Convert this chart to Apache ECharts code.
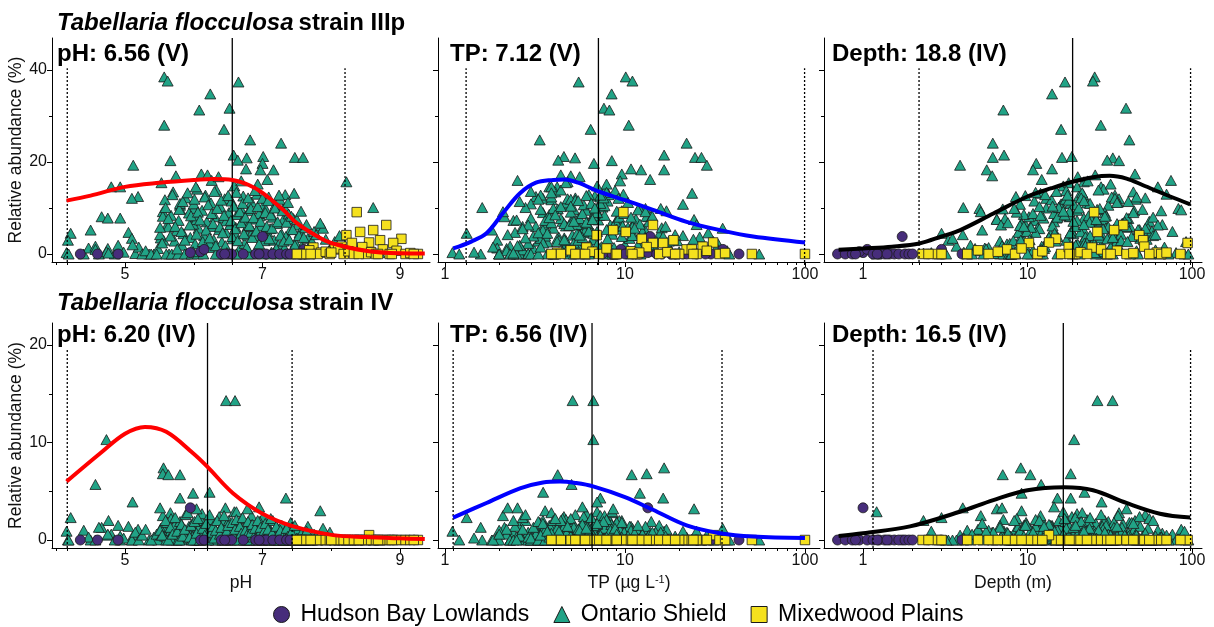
<!DOCTYPE html>
<html><head><meta charset="utf-8">
<script src="https://cdn.jsdelivr.net/npm/echarts@6/dist/echarts.min.js"></script>
<style>html,body{margin:0;padding:0;background:#fff}#c{width:1214px;height:627px}</style>
</head><body><div id="c"></div>
<script>
const FONT = '"Liberation Sans", Arial, sans-serif';
const regionNames = ['Hudson Bay Lowlands', 'Ontario Shield', 'Mixedwood Plains'];
const regionColors = ['#472D7B', '#21A386', '#F5E11E'];
const regionSymbols = ['circle', 'triangle', 'rect'];

// each row: [pH, TP (µg/L), depth (m), strain IIIp abundance (%), strain IV abundance (%)]
const hudsonBay = [
  [4.35,5.3,0.70,0,0],[4.60,8.5,0.78,0,0],[4.90,12,0.86,0,0],[5.95,13.4,1.00,0.3,3.3],
  [6.10,6.2,0.95,0.5,0],[6.15,9.5,1.06,1.0,0],[6.40,16,1.15,0,0],[6.50,21,1.25,0,0],
  [6.72,7.5,1.35,0,0],[6.90,11,1.45,0,0],[7.00,13.8,1.73,3.8,0],[7.05,25,1.55,0,0],
  [7.15,18,1.65,0,0],[7.25,30,1.80,0,0],[7.35,43,1.90,0,0],[7.45,10,2.00,0,0],
  [7.55,28,2.50,0,0],[7.60,35,3.00,1.0,0],[7.40,5.8,4.00,0,0],[6.95,22,1.22,0,0],
  [6.55,15,0.90,0,0],[6.45,19,1.40,0,0]
];
const ontarioShield = [
  [5.57,10.1,25.6,38.5,0.5],[5.62,11.0,25.0,37.6,1.2],[6.65,5.53,16.9,37.4,0.8],[6.24,8.43,14.1,34.8,1.5],
  [6.52,7.64,39.7,31.7,0.6],[6.08,8.19,7.13,31.3,2.1],[5.57,10.5,27.9,28.0,1.0],[6.44,6.45,16.0,27.1,0.4],
  [6.82,3.36,41.6,24.8,1.8],[7.27,22.0,6.15,24.1,0.3],[6.58,16.5,7.2,21.5,0.9],[7.47,24.5,16.2,21.0,0.2],
  [7.59,26.6,6.15,21.0,0.0],[7.01,4.58,18.6,21.2,2.4],[6.77,5.28,33.0,20.9,1.1],[6.64,4.26,30.5,20.4,0.7],
  [5.66,8.45,36.0,20.3,2.8],[7.00,6.72,11.3,19.7,1.3],[5.12,28.5,3.89,19.3,0.5],[7.16,12.3,5.65,18.3,0.2],
  [6.97,16.5,10.8,18.3,0.6],[6.76,10.8,14.1,18.5,1.4],[6.11,9.6,45.0,17.4,2.0],[6.20,4.4,25.8,17.2,1.6],
  [5.74,5.0,6.1,17.0,0.8],[6.26,2.53,74.5,16.0,0.3],[8.22,4.8,22.0,15.7,0.0],[4.80,4.2,20.0,14.6,0.6],
  [4.93,3.8,28.0,14.6,0.4],[7.46,23.6,12.0,13.2,0.1],[5.19,3.2,8.5,12.5,1.1],[5.10,3.5,13.0,12.1,0.0],
  [8.61,1.61,4.07,10.1,0.0],[6.00,13.0,5.1,9.9,1.0],[7.30,6.0,82.6,9.9,0.2],[4.66,2.14,18.0,8.1,1.3],
  [4.75,3.0,22.0,7.8,0.5],[4.93,5.5,15.0,7.8,0.0],[4.50,1.82,9.0,5.2,0.0],[4.21,1.32,3.0,4.5,2.3],
  [4.17,1.95,3.3,3.0,0.0],[4.15,1.10,2.6,0.3,0.9],
  [5.35,2.3,12,0,0],[5.42,2.8,8.5,0,0.3],[5.48,3.1,21,1.2,0],[5.52,4.6,35,3.5,1.2],
  [5.55,2.1,5.2,9.2,2.5],[5.58,3.9,14,11.8,0.4],[5.61,5.8,9.8,6.2,1.8],[5.64,2.6,28,0,0.6],
  [5.67,7.2,17,8.4,2.2],[5.70,4.1,44,13.5,0.9],[5.72,3.3,6.8,2.8,1.5],[5.75,6.4,22,5.1,0],
  [5.78,2.4,11,7.3,0.7],[5.80,4.9,31,10.6,1.9],[5.83,8.1,4.5,1.9,0],[5.85,3.6,19,4.4,1.1],
  [5.88,5.3,52,12.2,2.6],[5.90,2.9,8,0,0.2],[5.93,6.9,25,8.9,1.4],[5.95,4.3,13.5,3.6,0.5],
  [5.98,9.5,38,6.7,1.7],[6.00,3.0,16,10.9,0],[6.02,5.6,7.5,2.2,0.8],[6.05,7.8,29,14.1,2.0],
  [6.07,4.0,11.5,5.6,1.2],[6.10,2.7,60,0.9,0],[6.12,6.1,20,9.5,2.7],[6.15,11.2,9.2,4.0,0.4],
  [6.17,3.4,34,12.8,1.6],[6.19,5.0,14.5,7.0,0],[6.22,8.7,5.8,1.4,1.0],[6.25,4.7,23,11.1,2.1],
  [6.27,3.2,42,6.0,0.6],[6.29,6.6,17.5,3.1,1.3],[6.31,13.5,10.2,8.1,0],[6.33,4.4,27,13.9,0.9],
  [6.35,2.5,7.2,0,0.3],[6.37,5.9,48,5.3,2.4],[6.39,7.5,15.5,10.2,1.1],[6.41,3.7,21.5,2.6,0],
  [6.43,9.1,12.5,7.8,1.8],[6.45,4.8,36,12.0,0.5],[6.47,6.3,8.8,4.7,1.4],[6.49,15.0,19,0.6,0],
  [6.51,3.5,29.5,9.0,2.0],[6.53,5.4,66,6.4,0.7],[6.55,8.0,11,11.5,1.2],[6.57,4.2,24.5,3.3,0],
  [6.59,7.0,16.5,14.8,2.9],[6.61,10.4,40,5.8,0.4],[6.63,3.8,9.5,8.6,1.5],[6.66,5.7,31.5,1.0,0],
  [6.68,12.0,13,10.0,1.0],[6.70,4.5,55,7.1,2.2],[6.72,6.8,20.5,12.6,0.6],[6.74,2.9,7.8,2.3,0],
  [6.76,8.9,26,6.9,1.7],[6.78,5.1,14.8,4.1,0.3],[6.80,17.0,44.5,9.4,1.1],[6.82,4.0,10.5,0,0],
  [6.84,7.3,35.5,11.3,2.5],[6.86,6.0,18.5,5.0,0.8],[6.88,11.5,6.5,7.6,0],[6.90,3.6,28.5,3.9,1.4],
  [6.92,9.8,70,13.0,0.5],[6.94,5.5,12.2,1.7,0],[6.96,14.0,23.5,8.3,1.9],[6.98,4.7,39,6.1,0.7],
  [7.01,7.7,15.8,10.5,1.2],[7.03,19.5,8.2,2.9,0],[7.05,5.2,50,9.7,0.4],[7.07,8.4,21,4.8,1.6],
  [7.09,3.9,32.5,12.4,0],[7.11,12.8,11.8,5.5,1.0],[7.13,6.5,26.5,0.4,0.3],[7.15,9.3,58,8.0,2.0],
  [7.17,4.3,17.2,3.0,0],[7.19,21.0,9.0,10.8,0.9],[7.21,6.2,37.5,6.6,1.3],[7.23,10.0,19.8,2.0,0],
  [7.25,5.0,45.5,11.9,0.6],[7.28,15.5,13.8,4.3,1.5],[7.30,7.1,29,7.4,0],[7.32,4.6,7.0,1.3,0.5],
  [7.34,11.8,86,9.6,1.1],[7.36,26.0,22.5,3.7,0],[7.38,6.7,16.2,8.7,0.4],[7.41,9.0,33.5,5.4,1.8],
  [7.43,18.0,10.8,0.8,0],[7.45,5.6,41,7.7,0.7],[7.48,13.2,25,2.5,0],[7.51,8.3,62,6.3,1.0],
  [7.54,29.0,18.2,4.6,0],[7.57,7.4,12.8,1.6,0.3],[7.62,16.0,30,5.7,0],[7.66,10.6,48.5,3.4,1.4],
  [7.70,33.0,20.2,2.1,0],[7.75,12.5,76,4.9,0.6],[7.80,20.0,27.5,0.5,0],[7.85,9.7,14.2,6.1,0.2],
  [7.92,24.0,53,3.2,0],[7.98,14.8,36.5,1.1,0.8],[8.05,31.0,92,2.7,0],[8.12,11.0,24,4.0,0],
  [8.28,17.5,68,1.5,0],[8.38,37.0,46,0.7,0],[8.50,13.6,34,2.0,0],[8.70,22.5,80,0.3,0],
  [7.88,34.9,54,5.6,1.2],[7.84,3.6,9.2,6.7,3.0],
  [4.18,1.20,2.9,0,0],[4.40,2.0,4.3,0,1.0],[4.47,1.95,5.5,1.3,0.3],[4.57,2.3,3.7,1.7,0],
  [4.62,1.58,6.8,0,1.3],[4.75,2.2,4.8,1.2,0.6],[4.85,2.0,7.7,0,0],[4.90,2.6,9.6,1.9,1.5],
  [4.98,1.45,4.1,0.4,0.2],[5.05,2.45,11.2,4.7,1.4],[5.10,3.4,3.5,3.4,0],[5.15,2.9,6.2,0.1,0.8],
  [5.20,1.85,8.8,1.5,0],[5.25,3.7,15.2,0,0.5],[5.30,2.2,5.0,0.7,1.1],
  [5.38,4.9,33,0,0],[5.46,2.0,4.6,0,0.6],[5.60,6.0,56,0,0],[5.68,3.0,3.2,0,0],
  [5.77,55.7,47,0,0],[5.87,4.0,7.9,0,0.4],[5.97,8.8,26,0,0],[6.06,2.3,12.4,0,0],
  [6.14,5.2,90,0,0.9],[6.32,10.8,18.8,0,0],[6.46,4.1,5.4,0,0],[6.62,6.3,64,0,0.3],
  [6.79,3.3,30.5,0,0],[6.99,12.2,10.0,0,0],[7.12,7.6,95,0,0],[7.26,2.4,42,0,0],
  [7.40,18.8,20.8,0,0],[7.55,38,72,0,0],[7.68,8.6,8.0,0,0],
  [5.53,4.7,17.8,15.5,0.5],[6.03,3.9,62,14.6,0],[6.69,9.4,23.2,15.9,1.0],[6.93,7.9,32,15.2,0.3],
  [7.07,13.8,12.2,16.2,0.8],[7.33,8.1,21.8,12.9,0],[6.36,5.6,20.2,16.8,0.6],
  [6.47,5.12,26.6,7.2,14.3],[6.60,6.67,32.9,4.5,14.3],[4.73,6.67,19.2,0.5,10.3],[5.56,16.5,9.1,3.0,7.4],
  [5.55,13.2,18.3,8.2,6.8],[5.63,10.9,10.4,5.9,6.7],[5.80,4.23,7.07,9.8,6.7],[4.57,5.05,12.1,1.0,5.7],
  [5.99,12.1,9.2,6.5,4.8],[6.23,3.51,22.2,2.4,4.9],[7.34,16.3,15.2,3.8,4.3],[5.80,7.3,18.3,11.0,4.3],
  [5.11,7.0,28.2,2.0,3.9],[5.51,2.23,4.04,4.2,3.3],[6.04,24.2,6.5,7.5,3.2],[6.46,2.53,7.0,1.8,3.3],
  [6.62,8.5,1.21,0,2.9],[6.78,8.6,40,6.0,3.2],[6.95,5.8,14.5,8.8,3.4],[4.76,2.4,2.33,0.2,2.0],
  [5.51,3.6,10.5,5.8,1.0],[5.54,5.2,23,2.4,0.5],[5.59,2.8,15.5,10.1,2.0],[5.63,4.4,7.3,7.7,0],
  [5.66,3.1,33.5,3.9,1.3],[5.69,6.3,12.8,12.9,0.6],[5.73,2.7,19.5,6.0,2.3],[5.76,4.8,5.6,1.1,0.9],
  [5.79,3.4,26.5,9.7,0],[5.82,7.0,9.9,4.9,1.6],[5.84,2.6,41,11.4,0.4],[5.87,5.5,14,3.0,1.1],
  [5.91,3.9,21.5,13.3,2.8],[5.94,2.9,6.9,6.3,0.3],[5.96,6.7,30,8.3,1.5],[5.99,4.5,11.8,0.5,0],
  [6.01,3.3,17,11.9,1.9],[6.04,8.5,37,4.3,0.7],[6.06,5.0,8.6,9.1,2.2],[6.09,2.5,24.5,7.4,0],
  [6.13,4.2,13.2,2.7,1.2],[6.16,7.3,46,12.4,0.5],[6.18,3.5,5.3,5.2,1.7],[6.21,5.9,19.2,10.7,0],
  [6.23,2.8,28,3.5,2.6],[6.26,9.9,10.8,8.8,0.8],[6.28,4.6,35,6.6,1.4],[6.30,3.0,15,13.6,0.2],
  [6.32,6.4,22.5,1.8,1.0],[6.34,4.0,8.3,9.9,2.0],[6.38,11.0,31,5.9,0.6],[6.40,5.3,17.8,11.7,1.3],
  [6.42,3.3,53,4.6,0],[6.44,7.7,12,8.4,2.5],[6.48,4.3,25.5,0.3,0.9],[6.50,6.1,9.7,12.7,1.5],
  [6.54,3.6,20,7.3,0],[6.56,9.6,43,3.8,1.8],[6.58,5.0,14.2,10.4,0.4],[6.60,2.7,28.8,5.5,1.1],
  [6.62,7.9,11.2,13.4,2.1],[6.64,4.7,37,2.9,0],[6.67,13.0,18,9.2,1.4],[6.69,3.9,7.6,6.8,0.7],
  [6.71,6.5,24,11.0,2.3],[6.73,5.4,49,4.4,0],[6.75,10.8,15.2,8.0,1.0],[6.77,3.4,32,1.5,0.5],
  [6.79,7.6,21.2,12.2,1.9],[6.81,4.9,9.0,6.2,0],[6.83,15.8,27.5,9.9,0.8],[6.85,5.8,13.5,3.6,1.6],
  [6.87,3.8,40,7.9,0.3],[6.89,8.8,17.2,13.8,1.2],[6.91,6.3,57,5.0,0],[6.93,4.4,11.8,10.3,2.0],
  [6.95,12.5,25.5,2.2,0.6],[6.97,5.2,19,7.1,1.3],[7.00,9.2,34,12.1,0],[7.02,3.7,14.6,4.5,0.9],
  [7.04,7.0,44,9.0,1.7],[7.06,16.8,9.5,6.0,0.4],[7.08,5.5,22,11.6,1.1],[7.10,8.0,30.5,3.3,0],
  [7.12,4.1,16.8,8.5,2.2],[7.14,11.3,52,5.6,0.7],[7.18,6.8,20.5,10.0,0],[7.20,4.8,12.6,1.2,1.4],
  [7.22,13.6,39,7.0,0.5],[7.24,7.3,17.5,12.8,0],[7.26,5.6,27,4.1,1.0],[7.29,9.6,65,9.4,0.3],
  [7.31,17.5,14.8,2.8,0],[7.35,6.1,23.8,6.9,1.2],[7.37,10.4,35,11.2,0.4],[7.39,4.6,10.3,3.1,0],
  [7.42,14.2,29.5,8.2,0.8],[7.44,7.9,47,5.3,0],[7.47,11.8,19.6,1.9,1.5],[7.50,6.6,26.2,7.5,0.2],
  [7.53,21.0,58,4.0,0],[7.56,9.0,16.5,9.3,0.6],[7.60,12.9,33,3.6,0],[7.64,25.0,22,6.4,0.9],
  [7.72,15.0,40.5,2.7,0],[7.78,19.0,60,4.2,0.4]
];
const mixedwoodPlains = [
  [8.37,9.8,25.4,9.1,0],[8.80,14.3,38.2,6.3,0],[8.61,8.6,33.6,5.2,0],[8.42,10.1,26.6,4.8,0],
  [8.22,6.96,47.8,4.1,0],[9.02,12.4,14.9,3.3,0],[8.71,18.6,50.5,3.0,0],[8.30,14.3,94.0,2.4,0],
  [8.90,16.3,10.2,2.4,0],[8.55,30.9,13.5,2.5,0.5],[7.74,6.1,24.6,1.4,0],[8.15,27.0,51.3,1.6,0],
  [8.05,22.0,7.5,1.0,0],[7.85,4.2,61.0,0.3,0],[9.26,100,2.3,0,0],[7.55,50.7,2.8,0,0],
  [7.62,4.4,4.3,0,0],[7.68,5.0,5.0,0.8,0],[7.80,5.6,5.8,0,0],[7.92,6.6,6.6,0.5,0],
  [7.98,7.2,8.4,0,0],[8.10,7.9,9.2,1.2,0],[8.18,8.9,11.5,0,0],[8.25,10.8,12.3,0.6,0],
  [8.33,11.7,16.0,0,0],[8.45,13.2,17.8,1.5,0],[8.50,15.5,19.5,0,0],[8.58,17.2,21.0,0.4,0],
  [8.65,20.0,23.0,0,0],[8.75,23.5,28.0,1.0,0],[8.85,25.0,30.5,0,0],[8.95,28.5,35.0,0.7,0],
  [9.08,33.5,40.0,0,0],[9.15,36.0,44.0,0.2,0],[7.58,3.9,55,0,0],[7.70,19.0,65,0,0],
  [8.00,12.0,70,0.3,0],[8.68,24.0,3.0,0,0],[8.88,5.3,2.5,0,0],[9.20,9.0,85,0,0],
  [7.50,11.0,18.0,0,0],[8.40,6.0,32,0,0]
];

// fitted response curves [x, abundance]
const curvePH_IIIp = [[4.15,11.6],[4.5,12.7],[5.0,14.6],[5.5,15.5],[6.0,16.1],[6.3,16.3],[6.56,16.1],[6.8,15.0],[7.0,13.3],[7.3,9.6],[7.5,6.7],[7.8,3.8],[8.0,2.4],[8.5,0.7],[9.0,0.15],[9.36,0.1]];
const curveTP_IIIp = [[1.11,1.2],[1.4,2.7],[1.7,4.5],[2.1,8.9],[2.61,13.2],[3.2,15.5],[4.0,16.1],[4.6,16.2],[5.5,15.5],[7.12,13.6],[10,11.7],[14.3,9.6],[22,7.0],[33.7,5.2],[51.5,3.8],[100,2.5]];
const curveDepth_IIIp = [[0.71,0.9],[1,1.2],[1.5,1.6],[2.2,2.3],[3,3.8],[3.9,5.2],[6.2,8.8],[10,12.5],[14,14.3],[18.8,15.7],[25,16.7],[31.6,17.0],[40,16.4],[50,15.0],[73.7,12.5],[97.5,10.8]];
const curvePH_IV = [[4.15,6.0],[4.64,8.9],[5.0,10.9],[5.29,11.6],[5.6,11.1],[5.99,8.9],[6.2,7.5],[6.57,4.8],[7.0,2.7],[7.45,1.4],[8.03,0.5],[8.5,0.3],[9.0,0.17],[9.36,0.1]];
const curveTP_IV = [[1.11,2.3],[1.7,3.8],[2.61,5.3],[3.5,5.9],[4.36,6.0],[5.3,5.85],[6.65,5.5],[10,4.4],[14.3,3.1],[22,1.5],[33.7,0.7],[51.5,0.35],[100,0.2]];
const curveDepth_IV = [[0.71,0.4],[1,0.7],[1.93,1.4],[3.88,2.9],[6.2,4.1],[10,5.1],[16.7,5.4],[25,5.1],[39.9,3.8],[63.8,2.7],[97.5,2.3]];

const strainNames = ['strain IIIp', 'strain IV'];
const panelLabels = [['pH: 6.56 (V)', 'TP: 7.12 (V)', 'Depth: 18.8 (IV)'], ['pH: 6.20 (IV)', 'TP: 6.56 (IV)', 'Depth: 16.5 (IV)']];
const optima = [[6.56, 7.12, 18.8], [6.20, 6.56, 16.5]];
const tolLow = [[4.16, 1.31, 2.19], [4.16, 1.11, 1.15]];
const tolHigh = [[8.2, 99.5, 98], [7.43, 34.6, 98]];
const curves = [[curvePH_IIIp, curveTP_IIIp, curveDepth_IIIp], [curvePH_IV, curveTP_IV, curveDepth_IV]];
const curveColors = ['#FF0000', '#0000FF', '#000000'];

const phMajor = [5, 7, 9], phMinor = [4, 6, 8];
const logMajor = [1, 10, 100], logMinor = [2,3,4,5,6,7,8,9,20,30,40,50,60,70,80,90];
const yMajor = [[0, 20, 40], [0, 10, 20]], yMinor = [[10, 30], [5, 15]];
const xTitles = ['pH', 'TP (µg L{sup|-1})', 'Depth (m)'];

// layout (px)
const gridLeft = [52, 438, 824], gridWidth = [378, 382, 378];
const gridTop = [38, 323], gridHeight = [224, 225];
const xMin = [3.938, 0.9145, 0.579], xMax = [9.436, 121.2, 115];
const yMin = [-1.74, -0.82], yMax = [46.96, 22.26];
const dottedTop = [40.4, 19.7];

const grids = [], xAxes = [], yAxes = [], series = [], titles = [];
const regions = [hudsonBay, ontarioShield, mixedwoodPlains];
const drawOrder = [1, 0, 2];
const tickLine = { color: '#000', width: 1 };
const labelStyle = { fontSize: 16, color: '#111', fontFamily: FONT };

for (let r = 0; r < 2; r++) {
  for (let c = 0; c < 3; c++) {
    const g = r * 3 + c;
    grids.push({ left: gridLeft[c], top: gridTop[r], width: gridWidth[c], height: gridHeight[r] });
    const type = c === 0 ? 'value' : 'log';
    const major = c === 0 ? phMajor : logMajor;
    const minor = (c === 0 ? phMinor : logMinor).concat([optima[r][c], tolLow[r][c], tolHigh[r][c]]);
    const xa = {
      gridIndex: g, type, position: 'bottom', min: xMin[c], max: xMax[c],
      axisLine: { show: true, onZero: false, lineStyle: tickLine },
      axisTick: { show: true, length: 5, customValues: major, lineStyle: tickLine },
      axisLabel: { show: true, customValues: major, margin: 5, ...labelStyle },
      splitLine: { show: false }, minorTick: { show: false }
    };
    if (type === 'log') xa.logBase = 10;
    if (r === 1) {
      xa.name = xTitles[c]; xa.nameLocation = 'middle'; xa.nameGap = 26;
      xa.nameTextStyle = { fontSize: 17.5, color: '#111', fontFamily: FONT, verticalAlign: 'top',
        rich: { sup: { fontSize: 11, verticalAlign: 'top', padding: [0, 0, 8, 0], color: '#111', fontFamily: FONT } } };
    }
    xAxes.push(xa);
    const xb = {
      gridIndex: g, type, position: 'bottom', min: xMin[c], max: xMax[c],
      axisLine: { show: false, onZero: false },
      axisTick: { show: true, length: 3, customValues: minor, lineStyle: tickLine },
      axisLabel: { show: false }, splitLine: { show: false }
    };
    if (type === 'log') xb.logBase = 10;
    xAxes.push(xb);

    const ya = {
      gridIndex: g, type: 'value', position: 'left', min: yMin[r], max: yMax[r],
      axisLine: { show: true, onZero: false, lineStyle: tickLine },
      axisTick: { show: true, length: 5, customValues: yMajor[r], lineStyle: tickLine },
      axisLabel: { show: c === 0, customValues: yMajor[r], margin: 5, ...labelStyle },
      splitLine: { show: false }
    };
    if (c === 0) {
      ya.name = 'Relative abundance (%)'; ya.nameLocation = 'middle'; ya.nameGap = 19;
      ya.nameTextStyle = { fontSize: 17.5, color: '#111', fontFamily: FONT };
    }
    yAxes.push(ya);
    yAxes.push({
      gridIndex: g, type: 'value', position: 'left', min: yMin[r], max: yMax[r],
      axisLine: { show: false, onZero: false },
      axisTick: { show: true, length: 3, customValues: yMinor[r], lineStyle: tickLine },
      axisLabel: { show: false }, splitLine: { show: false }
    });

    const col = c, ycol = 3 + r;
    drawOrder.forEach((k, i) => {
      series.push({
        type: 'scatter', name: regionNames[k], xAxisIndex: 2 * g, yAxisIndex: 2 * g,
        data: regions[k].map(row => [row[col], row[ycol]]),
        symbol: regionSymbols[k], symbolSize: k === 1 ? [11, 10] : (k === 2 ? 9.5 : 10),
        itemStyle: { color: regionColors[k], borderColor: '#1a1a1a', borderWidth: 0.8, opacity: 1 },
        z: 2 + i, silent: true
      });
    });
    series.push({
      type: 'line', xAxisIndex: 2 * g, yAxisIndex: 2 * g, data: curves[r][c], smooth: 0.35,
      symbol: 'none', lineStyle: { color: curveColors[c], width: 4 }, z: 8, silent: true
    });
    series.push({
      type: 'line', xAxisIndex: 2 * g, yAxisIndex: 2 * g,
      data: [[optima[r][c], yMin[r]], [optima[r][c], yMax[r]]],
      symbol: 'none', lineStyle: { color: '#000', width: 1.3 }, z: 7, silent: true
    });
    [tolLow[r][c], tolHigh[r][c]].forEach(v => {
      series.push({
        type: 'line', xAxisIndex: 2 * g, yAxisIndex: 2 * g,
        data: [[v, yMin[r]], [v, dottedTop[r]]],
        symbol: 'none', lineStyle: { color: '#000', width: 1.3, type: [2, 2] }, z: 7, silent: true
      });
    });
    titles.push({
      text: panelLabels[r][c], left: [52, 445, 827][c], top: [37, 318][r],
      textStyle: { fontSize: 24, fontWeight: 'bold', color: '#000', fontFamily: FONT }
    });
  }
  titles.push({
    text: '{i|Tabellaria flocculosa} {b|' + strainNames[r] + '}', left: 52, top: [6, 286][r],
    textStyle: { rich: {
      i: { fontSize: 24, fontWeight: 'bold', fontStyle: 'italic', color: '#000', fontFamily: FONT },
      b: { fontSize: 24, fontWeight: 'bold', color: '#000', fontFamily: FONT }
    } }
  });
}

const chart = echarts.init(document.getElementById('c'), null, { renderer: 'canvas' });
chart.setOption({
  animation: false,
  backgroundColor: '#fff',
  textStyle: { fontFamily: FONT },
  title: titles,
  grid: grids,
  xAxis: xAxes,
  yAxis: yAxes,
  legend: {
    left: 268, top: 598, itemWidth: 16, itemHeight: 16, itemGap: 24,
    selectedMode: false,
    textStyle: { fontSize: 23, color: '#000', fontFamily: FONT, padding: [0, 0, 0, 6] },
    data: regionNames.map((n, k) => ({
      name: n, icon: regionSymbols[k],
      itemStyle: { color: regionColors[k], borderColor: '#1a1a1a', borderWidth: 1 }
    }))
  },
  series
});
</script></body></html>
